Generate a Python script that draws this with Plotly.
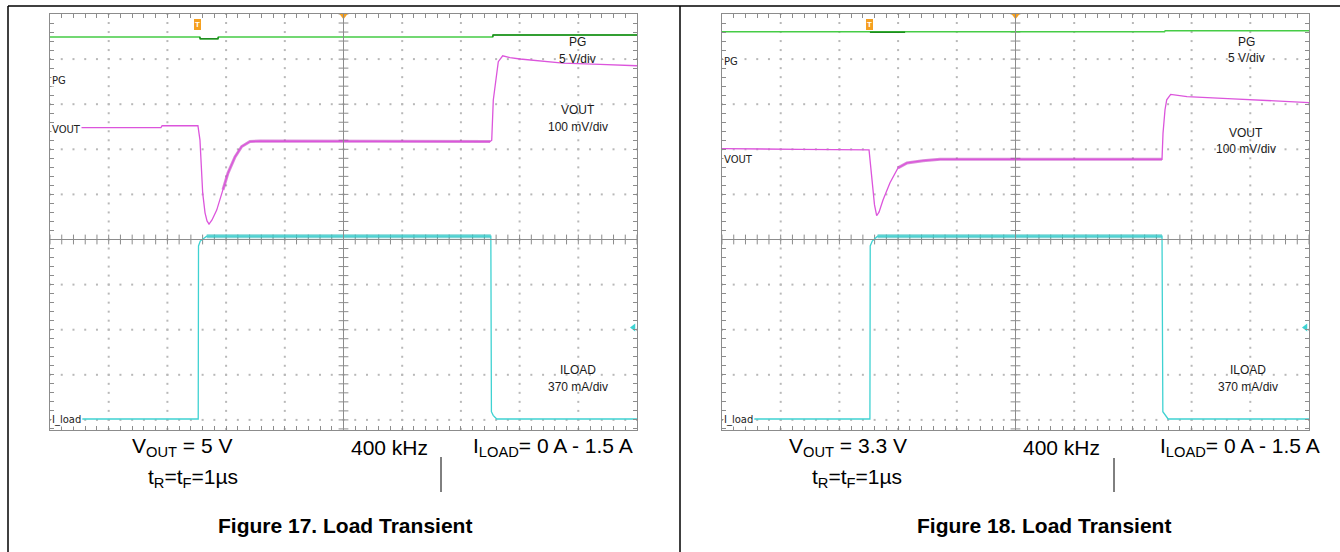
import numpy as np
import plotly.graph_objects as go

W, H = 1340, 552

# ---------------- Figure 17 : VOUT = 5 V ----------------
# time axis in scope divisions (10 div across the screen)
t_pg17 = [0.00, 2.55, 2.56, 2.86, 2.87, 7.54, 7.55, 10.00]
pg17_v = [4.77, 4.77, 4.58, 4.58, 4.77, 4.77, 4.99, 4.99]

t_vout17 = [0.51, 1.89, 1.91, 2.52, 2.555, 2.601, 2.641, 2.675, 2.709, 2.760,
            2.840, 2.947, 3.032, 3.152, 3.266, 3.407, 3.578, 7.496, 7.525,
            7.552, 7.598, 7.637, 7.712, 7.836, 8.007, 8.348, 8.739, 9.370, 10.0]
vout17_mv = [1, 1, 5, 5, -27, -144, -188, -206, -213, -204,
             -182, -137, -100, -64, -41, -30, -29, -30, -27,
             62, 114, 147, 160, 156, 153, 149, 144, 141, 138]

t_iload17 = [0.55, 2.525, 2.53, 2.56, 2.67, 7.51, 7.52, 7.55, 7.61, 10.0]
iload17_a = [0.00, 0.00, 1.42, 1.46, 1.50, 1.50, 0.06, 0.03, 0.00, 0.00]

# ---------------- Figure 18 : VOUT = 3.3 V ----------------
t_pg18 = [0.00, 2.51, 2.52, 3.12, 3.13, 7.54, 7.55, 10.00]
pg18_v = [3.14, 3.14, 3.07, 3.07, 3.14, 3.14, 3.25, 3.25]

t_vout18 = [0.00, 0.40, 1.33, 2.505, 2.555, 2.598, 2.635, 2.675, 2.743, 2.862,
            2.998, 3.152, 3.424, 3.714, 7.496, 7.513, 7.547, 7.576, 7.644,
            7.922, 8.705, 9.336, 10.0]
vout18_mv = [21, 20, 19, 18, -49, -104, -128, -120, -93, -55,
             -22, -11, -6, -3, -3, 55, 107, 129, 141,
             136, 131, 127, 123]

t_iload18 = [0.55, 2.52, 2.525, 2.56, 2.65, 7.496, 7.51, 7.55, 7.60, 10.0]
iload18_a = [0.00, 0.00, 1.42, 1.46, 1.50, 1.50, 0.06, 0.03, 0.00, 0.00]

# channel scales (per division) and trigger level
PG_V_PER_DIV = 5.0
VOUT_MV_PER_DIV = 100.0
ILOAD_A_PER_DIV = 0.37
TRIGGER_LEVEL_A = 0.75
TRIGGER_T_DIV = 2.52

# ---------------- screen geometry ----------------
TOP_PY, BOT_PY = 14, 430
PX_PER_DIV_Y = 45.1
Y_LO = 10 - (BOT_PY - TOP_PY) / PX_PER_DIV_Y


def ydiv(py):
    return 10 - (py - TOP_PY) / PX_PER_DIV_Y


def px(x):
    return x / W


def py_(y):
    return 1 - y / H


GRID_C = "#b8b8b8"
AXIS_C = "#8c8c8c"
PG_C, PG_DARK = "#46cc46", "#1f8c1f"
VOUT_C, VOUT_DARK = "#dc55dc", "#b41db4"
IL_C, IL_DARK = "#3fd2d2", "#17b4b4"
FONT = "Arial, Liberation Sans, sans-serif"

panels = [
    dict(x0=50, x1=637,
         pg=(t_pg17, pg17_v), vout=(t_vout17, vout17_mv), il=(t_iload17, iload17_a),
         ref_pg=80, ref_vout=128, ref_il=419,
         pg_dark=[(2.55, 2.87), (7.54, 10.0)],
         vout_noise=(2.9, 7.5), il_noise=(2.6, 7.515)),
    dict(x0=722, x1=1309,
         pg=(t_pg18, pg18_v), vout=(t_vout18, vout18_mv), il=(t_iload18, iload18_a),
         ref_pg=60, ref_vout=158, ref_il=419,
         pg_dark=[(2.52, 3.12)],
         vout_noise=(2.9, 7.5), il_noise=(2.6, 7.5)),
]

fig = go.Figure()
layout = dict(width=W, height=H, margin=dict(l=0, r=0, t=0, b=0),
              paper_bgcolor="white", plot_bgcolor="white", showlegend=False)

annotations = []
shapes = []

minor = np.round(np.arange(0, 10.0001, 0.2), 3)
minor_y = np.round(np.arange(0.8, 10.0001, 0.2), 3)
major = [1, 2, 3, 4, 6, 7, 8, 9]


def window(t, v, a, b):
    tt, vv = [], []
    for ti, vi in zip(t, v):
        if a <= ti <= b:
            tt.append(ti)
            vv.append(vi)
    return tt, vv


for i, p in enumerate(panels):
    xa = "x" if i == 0 else "x2"
    ya = "y" if i == 0 else "y2"
    n0 = 3 + 3 * i
    y_pg, y_vo, y_il = f"y{n0}", f"y{n0 + 1}", f"y{n0 + 2}"

    base_x = dict(domain=[px(p["x0"]), px(p["x1"])], range=[0, 10],
                  showgrid=False, zeroline=False, showticklabels=False,
                  showline=True, linecolor=AXIS_C, linewidth=1, mirror="ticks",
                  ticks="inside", ticklen=4, tickcolor=AXIS_C, tick0=0, dtick=0.2,
                  anchor=ya, fixedrange=True)
    base_y = dict(domain=[py_(BOT_PY), py_(TOP_PY)], range=[Y_LO, 10],
                  showgrid=False, zeroline=False, showticklabels=False,
                  showline=True, linecolor=AXIS_C, linewidth=1, mirror="ticks",
                  ticks="inside", ticklen=4, tickcolor=AXIS_C, tick0=0, dtick=0.2,
                  anchor=xa, fixedrange=True)
    layout["xaxis" if i == 0 else "xaxis2"] = base_x
    layout["yaxis" if i == 0 else "yaxis2"] = base_y

    def chan_axis(ref_py, per_div):
        r = ydiv(ref_py)
        return dict(overlaying=ya, anchor=xa, visible=False, fixedrange=True,
                    range=[(Y_LO - r) * per_div, (10 - r) * per_div])

    layout[f"yaxis{n0}"] = chan_axis(p["ref_pg"], PG_V_PER_DIV)
    layout[f"yaxis{n0 + 1}"] = chan_axis(p["ref_vout"], VOUT_MV_PER_DIV)
    layout[f"yaxis{n0 + 2}"] = chan_axis(p["ref_il"], ILOAD_A_PER_DIV)

    # dotted graticule
    gx = [x for r in major for x in minor] + [c for c in major for y in minor_y]
    gy = [r for r in major for x in minor] + [y for c in major for y in minor_y]
    fig.add_trace(go.Scatter(x=gx, y=gy, mode="markers", xaxis=xa, yaxis=ya,
                             marker=dict(symbol="square", size=2, color=GRID_C),
                             hoverinfo="skip"))
    # centre cross-hair with minor ticks
    shapes.append(dict(type="line", xref=xa, yref=ya, x0=0, x1=10, y0=5, y1=5,
                       line=dict(color=AXIS_C, width=1)))
    shapes.append(dict(type="line", xref=xa, yref=ya, x0=5, x1=5, y0=Y_LO, y1=10,
                       line=dict(color=AXIS_C, width=1)))
    fig.add_trace(go.Scatter(x=list(minor), y=[5] * len(minor), mode="markers",
                             xaxis=xa, yaxis=ya, hoverinfo="skip",
                             marker=dict(symbol="line-ns", size=7,
                                         line=dict(color=AXIS_C, width=1))))
    fig.add_trace(go.Scatter(x=[5] * len(minor_y), y=list(minor_y), mode="markers",
                             xaxis=xa, yaxis=ya, hoverinfo="skip",
                             marker=dict(symbol="line-ew", size=7,
                                         line=dict(color=AXIS_C, width=1))))

    # PG
    t, v = p["pg"]
    fig.add_trace(go.Scatter(x=t, y=v, mode="lines", xaxis=xa, yaxis=y_pg,
                             line=dict(color=PG_C, width=1.4), hoverinfo="skip"))
    for a, b in p["pg_dark"]:
        tt, vv = window(t, v, a, b)
        fig.add_trace(go.Scatter(x=tt, y=vv, mode="lines", xaxis=xa, yaxis=y_pg,
                                 line=dict(color=PG_DARK, width=1.6), hoverinfo="skip"))

    # VOUT (ripple band behind the trace on the loaded plateau)
    t, v = p["vout"]
    a, b = p["vout_noise"]
    tt, vv = window(t, v, a, b)
    fig.add_trace(go.Scatter(x=tt, y=vv, mode="lines", xaxis=xa, yaxis=y_vo, opacity=0.5,
                             line=dict(color=VOUT_DARK, width=3), hoverinfo="skip"))
    fig.add_trace(go.Scatter(x=t, y=v, mode="lines", xaxis=xa, yaxis=y_vo,
                             line=dict(color=VOUT_C, width=1.3), hoverinfo="skip"))

    # ILOAD
    t, v = p["il"]
    a, b = p["il_noise"]
    tt, vv = window(t, v, a, b)
    fig.add_trace(go.Scatter(x=tt, y=vv, mode="lines", xaxis=xa, yaxis=y_il, opacity=0.55,
                             line=dict(color=IL_DARK, width=4), hoverinfo="skip"))
    fig.add_trace(go.Scatter(x=t, y=v, mode="lines", xaxis=xa, yaxis=y_il,
                             line=dict(color=IL_C, width=1.3), hoverinfo="skip"))

    # trigger level arrow and position markers
    fig.add_trace(go.Scatter(x=[9.94], y=[TRIGGER_LEVEL_A], mode="markers", xaxis=xa,
                             yaxis=y_il, cliponaxis=False, hoverinfo="skip",
                             marker=dict(symbol="triangle-left", size=7, color=IL_C)))
    fig.add_trace(go.Scatter(x=[5], y=[9.96], mode="markers", xaxis=xa, yaxis=ya,
                             cliponaxis=False, hoverinfo="skip",
                             marker=dict(symbol="triangle-down", size=7, color="#f5a020")))
    annotations.append(dict(x=TRIGGER_T_DIV, y=ydiv(24), xref=xa, yref=ya,
                            text="<b>T</b>", showarrow=False, bgcolor="#f5a020",
                            bordercolor="#f5a020", borderpad=0,
                            font=dict(family=FONT, size=8, color="white")))

    # channel ground labels on the left edge
    for txt, rpy in (("PG", p["ref_pg"]), ("VOUT", p["ref_vout"]), ("I_load", p["ref_il"])):
        annotations.append(dict(x=px(p["x0"] + 1), y=py_(rpy + 1), xref="paper", yref="paper",
                                xanchor="left", yanchor="middle", text=txt, showarrow=False,
                                bgcolor="white", borderpad=0,
                                font=dict(family="DejaVu Sans, sans-serif", size=10,
                                          color="#222222")))

# channel scale captions
caps = [
    (577, 42, "PG"), (577, 59, "5 V/div"), (578, 110, "VOUT"), (578, 127, "100 mV/div"),
    (578, 370, "ILOAD"), (578, 387, "370 mA/div"),
    (1246, 42, "PG"), (1246, 58, "5 V/div"), (1246, 133, "VOUT"), (1246, 149, "100 mV/div"),
    (1248, 370, "ILOAD"), (1248, 387, "370 mA/div"),
]
for cx, cy, txt in caps:
    annotations.append(dict(x=px(cx), y=py_(cy), xref="paper", yref="paper",
                            xanchor="center", yanchor="middle", text=txt, showarrow=False,
                            font=dict(family=FONT, size=12, color="#1a1a1a")))

# test-condition text under each screenshot
conds = [
    (130, 447, "V<sub>OUT</sub> = 5 V"), (349, 447, "400 kHz"),
    (471, 447, "I<sub>LOAD</sub>= 0 A - 1.5 A"), (146, 478, "t<sub>R</sub>=t<sub>F</sub>=1µs"),
    (787, 447, "V<sub>OUT</sub> = 3.3 V"), (1021, 447, "400 kHz"),
    (1158, 447, "I<sub>LOAD</sub>= 0 A - 1.5 A"), (810, 478, "t<sub>R</sub>=t<sub>F</sub>=1µs"),
]
for cx, cy, txt in conds:
    annotations.append(dict(x=px(cx), y=py_(cy), xref="paper", yref="paper",
                            xanchor="left", yanchor="middle", text=txt, showarrow=False,
                            font=dict(family=FONT, size=21, color="black")))

for cx, txt in ((345, "Figure 17. Load Transient"), (1044, "Figure 18. Load Transient")):
    annotations.append(dict(x=px(cx), y=py_(525), xref="paper", yref="paper",
                            xanchor="center", yanchor="middle", text=f"<b>{txt}</b>",
                            showarrow=False, font=dict(family=FONT, size=21, color="black")))

# page frame and separators
frame = dict(color="black", width=1.5)
shapes += [
    dict(type="line", xref="paper", yref="paper", x0=px(8), x1=1, y0=py_(6), y1=py_(6), line=frame),
    dict(type="line", xref="paper", yref="paper", x0=px(8), x1=px(8), y0=0, y1=py_(6), line=frame),
    dict(type="line", xref="paper", yref="paper", x0=px(680), x1=px(680), y0=0, y1=py_(6), line=frame),
    dict(type="line", xref="paper", yref="paper", x0=px(441), x1=px(441), y0=py_(457), y1=py_(492),
         line=dict(color="black", width=1)),
    dict(type="line", xref="paper", yref="paper", x0=px(1114), x1=px(1114), y0=py_(458), y1=py_(492),
         line=dict(color="black", width=1)),
]

layout["annotations"] = annotations
layout["shapes"] = shapes
fig.update_layout(**layout)
fig.write_html("out.html")
